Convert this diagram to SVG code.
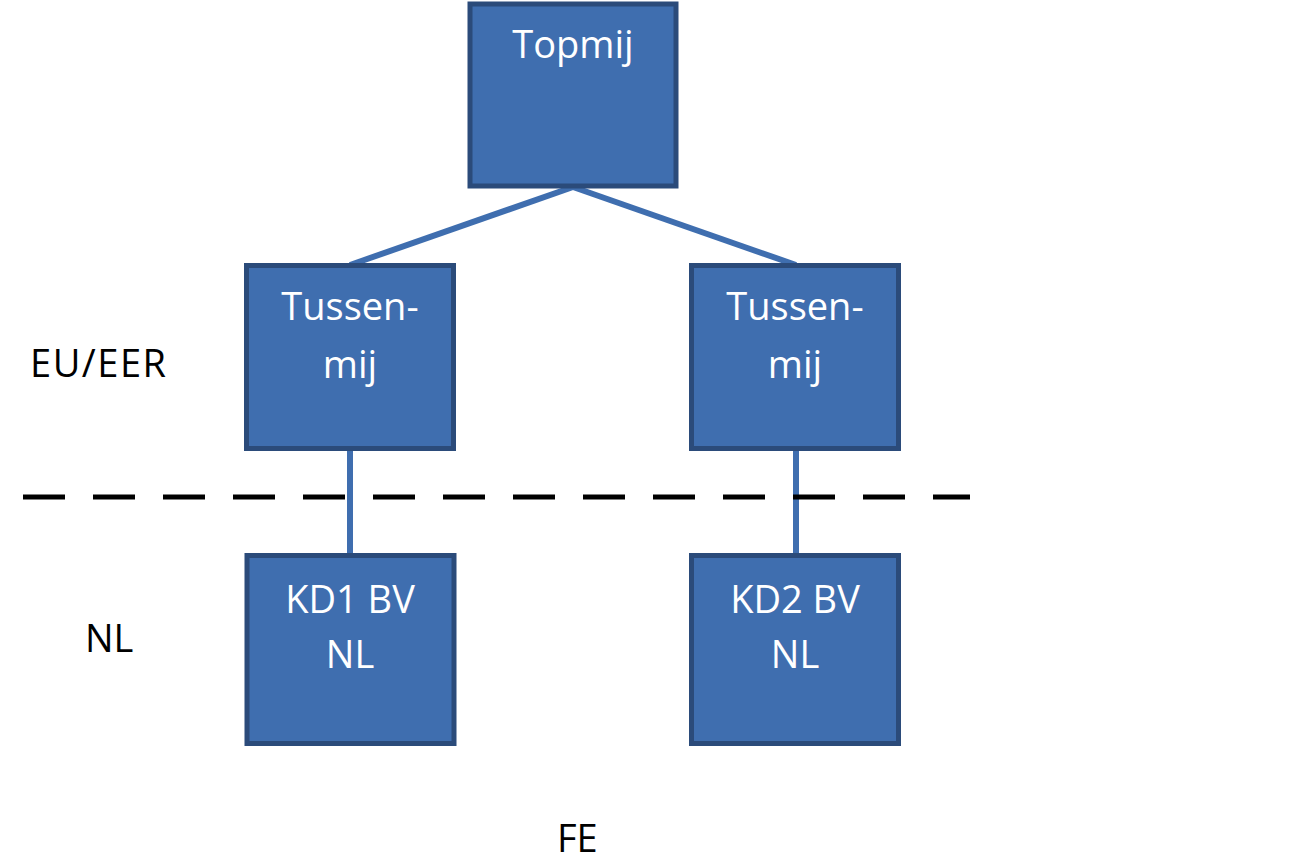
<svg xmlns="http://www.w3.org/2000/svg" width="1299" height="858" viewBox="0 0 1299 858">
<style>
.box{fill:#3F6EAF;stroke:#2B4B7A;stroke-width:5}
.wt{fill:#fff;font-family:"Open Sans","Liberation Sans",sans-serif;font-size:38px;text-anchor:middle}
.bt{fill:#000;font-family:"Open Sans","Liberation Sans",sans-serif;font-size:38px}
.con{stroke:#3F6EAF;stroke-width:6;fill:none}
</style>
<rect width="1299" height="858" fill="#fff"/>
<g id="connectors">
<line class="con" x1="573" y1="187" x2="350" y2="265"/>
<line class="con" x1="573" y1="187" x2="796" y2="265"/>
<line class="con" x1="350" y1="450" x2="350" y2="554"/>
<line class="con" x1="796" y1="450" x2="796" y2="554"/>
</g>
<g id="divider">
<line x1="23" y1="497" x2="970" y2="497" stroke="#000" stroke-width="5" stroke-dasharray="42 28"/>
</g>
<g id="topmij">
<rect class="box" x="470" y="4" width="206" height="182"/>
<text class="wt" x="573" y="58">Topmij</text>
</g>
<g id="tussen1">
<rect class="box" x="246.5" y="265.5" width="207" height="183"/>
<text class="wt" x="350" y="320">Tussen-</text>
<text class="wt" x="350" y="378">mij</text>
</g>
<g id="tussen2">
<rect class="box" x="691.5" y="265.5" width="207" height="183"/>
<text class="wt" x="795" y="320">Tussen-</text>
<text class="wt" x="795" y="378">mij</text>
</g>
<g id="kd1">
<rect class="box" x="247" y="555.5" width="207" height="188"/>
<text class="wt" x="350" y="613">KD1 BV</text>
<text class="wt" x="350" y="668">NL</text>
</g>
<g id="kd2">
<rect class="box" x="691.5" y="555.5" width="207" height="188"/>
<text class="wt" x="795" y="613">KD2 BV</text>
<text class="wt" x="795" y="668">NL</text>
</g>
<g id="labels">
<text class="bt" x="30" y="377" textLength="136" lengthAdjust="spacing">EU/EER</text>
<text class="bt" x="85" y="652">NL</text>
<text class="bt" x="557" y="852">FE</text>
</g>
</svg>
